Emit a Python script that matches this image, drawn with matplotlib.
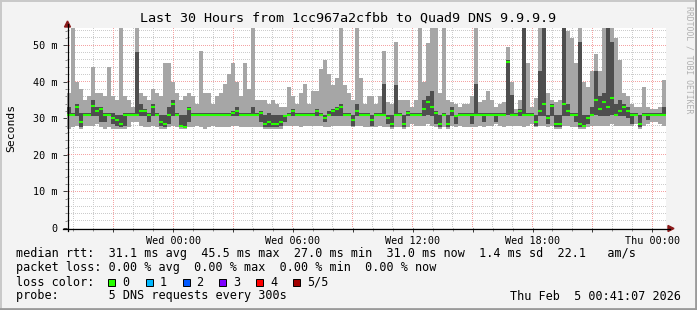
import matplotlib
matplotlib.use("Agg")
import matplotlib.pyplot as plt
import matplotlib.dates as mdates
import numpy as np
import pandas as pd
from matplotlib.patches import Rectangle, Polygon
from matplotlib.lines import Line2D

W, H, DPI = 697, 310, 100

# ---------------- data (5 sorted DNS probe rtts per 12-minute step, in ms) ----------------
start = pd.Timestamp("2026-02-03 18:41:07")
end = pd.Timestamp("2026-02-05 00:41:07")

ping_max = [37, 55, 40, 38, 35, 36, 44, 37, 37, 36,
            44, 36, 35, 55, 36, 35, 33, 55, 37, 36,
            35, 38, 37, 36, 45, 45, 40, 37, 35, 36,
            37, 36, 34, 48.5, 37, 37, 34, 36, 37, 39.5,
            42, 45, 40, 36, 45, 38, 55, 35, 35, 35,
            34, 35, 34, 33, 33, 38.5, 36, 34, 37, 39.5,
            34, 37.5, 37.5, 43.5, 46, 42, 39, 41, 55, 39,
            37, 35, 55, 41, 34, 36, 36, 34, 36, 48.5,
            34.5, 34, 51, 35, 35, 35, 33, 35, 55, 40,
            50.5, 55, 55, 37, 55, 35, 34.5, 34, 33, 34,
            34, 36, 55, 34.5, 35, 37.5, 35, 33, 34, 34.5,
            49.5, 40, 32.5, 35, 55, 45, 33, 35.5, 55, 55,
            37, 35, 34.5, 35, 55, 54, 52, 45, 55, 40,
            38.5, 43, 47.5, 43, 55, 55, 55, 52, 46, 37,
            36, 34, 33, 33, 38.5, 33, 32.5, 32.5, 33, 40.5]

ping_q4 = [33, 31.5, 34, 31.5, 31.5, 31.5, 35, 33, 33, 31.5,
           31.5, 31.5, 31, 31, 31.5, 31.5, 31.5, 48, 34, 32.5,
           31.5, 34, 31.5, 31, 31, 33, 35, 31.5, 31, 31,
           33, 31.5, 31.5, 31.5, 31.5, 31.5, 31.5, 31.5, 31.5, 31.5,
           31.5, 32, 33, 31.5, 31.5, 31.5, 33, 31.5, 32, 31,
           31.5, 31, 31, 31, 31, 31.5, 32.5, 31.5, 31.5, 31.5,
           31.5, 31.5, 32.5, 31.5, 31, 32, 32.5, 33, 34, 31.5,
           31.5, 31, 34, 31.5, 31.5, 31.5, 31, 31.5, 31.5, 39.5,
           31, 31, 39, 31.5, 31, 32, 31.5, 31.5, 31.5, 35,
           36, 37.5, 32, 31, 31.5, 31, 33, 31, 31.5, 31.5,
           31.5, 31.5, 39.5, 31.5, 31.5, 31.5, 31.5, 31.5, 31.5, 31.5,
           46, 36.5, 31.5, 32.5, 55, 31.5, 31.5, 31, 43, 55,
           31, 34, 31, 31, 55, 34, 31.5, 31.5, 51, 31,
           31, 33, 43, 36, 37, 55, 51, 34, 35, 34,
           33, 31.5, 31.5, 31, 31.5, 31.5, 31.5, 31.5, 31.5, 33]

median = [31, 31, 33, 29, 31, 31, 33.5, 32, 32.5, 31,
          31, 30, 29.5, 28.5, 31, 31, 31, 31, 32, 32,
          31, 33, 31, 29, 28.5, 31, 34, 31, 28, 27.5,
          32.5, 31, 31, 31, 31, 31, 31, 31, 31, 31,
          31, 31.5, 32, 31, 31, 31, 31, 31, 31.5, 28.5,
          29, 28.5, 28.5, 29, 30.5, 31, 32, 31, 31, 31,
          31, 31, 32, 31, 30, 31, 32, 32.5, 33, 31,
          31, 29.5, 32, 31, 31, 31, 29.5, 31, 31, 31,
          30, 28.5, 31, 31, 28.5, 31.5, 31, 31, 31, 32.5,
          34.5, 33, 31.5, 28.5, 31, 28.5, 32, 30.5, 31, 31,
          31, 31, 31, 31, 31, 31, 31, 31, 31, 31,
          45.5, 31, 31, 32, 31, 31, 31, 29, 32, 34,
          30, 33.5, 28.5, 28.5, 34, 32, 31, 31, 28.5, 28,
          30, 31, 35, 32.5, 34.5, 33, 35.5, 31, 32, 33,
          32, 31, 31, 28.5, 31, 31, 31, 31, 31, 31]

ping_q2 = [30.5, 30.5, 30.5, 27.5, 30.5, 30.5, 30.5, 30.5, 29, 29,
           30.5, 28.5, 28, 27.5, 28, 30.5, 30.5, 30.5, 30.5, 30.5,
           29, 30.5, 30.5, 28, 27.5, 28.5, 30.5, 30.5, 27.5, 27.5,
           29, 30.5, 30.5, 30.5, 30.5, 30.5, 30.5, 30.5, 30.5, 30.5,
           30.5, 30.5, 30.5, 30.5, 30.5, 30.5, 30.5, 30.5, 29, 27.5,
           27.5, 27.5, 27.5, 28, 29, 30.5, 30.5, 30.5, 30.5, 30.5,
           30.5, 30.5, 30.5, 30.5, 29, 30.5, 30.5, 30.5, 30.5, 30.5,
           30.5, 28, 30.5, 30.5, 30.5, 30.5, 28, 30.5, 30.5, 30.5,
           28.5, 27.5, 30.5, 30.5, 27.5, 30.5, 30.5, 30.5, 30.5, 30.5,
           31, 30.5, 28.5, 27.5, 30.5, 27.5, 30.5, 28.5, 30.5, 30.5,
           30.5, 28.5, 30.5, 30.5, 29, 30.5, 30.5, 29, 30.5, 30.5,
           31, 30.5, 30.5, 30.5, 30.5, 30.5, 30.5, 28, 30.5, 30.5,
           28.5, 30.5, 27.5, 27.5, 30.5, 30.5, 30.5, 29, 27.5, 27.5,
           28.5, 30.5, 31, 30.5, 30.5, 30.5, 31, 30.5, 30.5, 30.5,
           30, 28.5, 30.5, 27.5, 30.5, 29.5, 30.5, 30.5, 30.5, 30.5]

ping_min = [27, 27.5, 28, 27, 28, 28, 28, 28.5, 27.5, 27,
            27.5, 27, 27, 27, 27, 27.5, 29, 29, 28, 27.5,
            27.5, 28, 27.5, 27, 27, 27.5, 28, 27.5, 27, 27,
            27.5, 27.5, 28, 27.5, 27, 27.5, 28, 27.5, 27.5, 27.5,
            27.5, 28, 28, 27.5, 27.5, 27.5, 27.5, 27.5, 27.5, 27,
            27, 27, 27, 27, 28, 28, 28, 28, 27.5, 28,
            28, 28, 28, 28, 27.5, 27.5, 28, 28, 28, 28,
            28, 27.5, 28, 28, 27.5, 27.5, 27.5, 27.5, 28, 27.5,
            27.5, 27, 27.5, 27.5, 27, 27.5, 28.5, 28, 28, 28,
            28.5, 28, 27.5, 27, 27.5, 27, 28, 27.5, 28, 27.5,
            27.5, 27.5, 27.5, 28, 27.5, 28, 28, 28.5, 28, 27.5,
            28, 28, 28, 28, 27.5, 28, 28.5, 27.5, 28, 28,
            27.5, 28, 27, 27, 28, 28, 27.5, 27.5, 27, 27,
            27.5, 28, 28, 28, 28, 28, 28.5, 28, 28, 28,
            28, 28, 28.5, 27, 28, 28.5, 29, 29, 28.5, 28]

y_ticks = [0, 10, 20, 30, 40, 50]
y_labels = ["0", "10 m", "20 m", "30 m", "40 m", "50 m"]
y_minor = [2, 4, 6, 8, 12, 14, 16, 18, 22, 24, 26, 28, 32, 34, 36, 38, 42, 44, 46, 48, 52, 54]

title = "Last 30 Hours from 1cc967a2cfbb to Quad9 DNS 9.9.9.9"
row_rtt = "median rtt:  31.1 ms avg  45.5 ms max  27.0 ms min  31.0 ms now  1.4 ms sd  22.1   am/s"
row_loss = "packet loss: 0.00 % avg  0.00 % max  0.00 % min  0.00 % now"
loss_labels = ["0", "1", "2", "3", "4", "5/5"]
loss_colors = ["#26ff00", "#00b8ff", "#0059ff", "#7e00ff", "#ff0000", "#a10000"]
row_probe = "probe:       5 DNS requests every 300s"
stamp = "Thu Feb  5 00:41:07 2026"

# ---------------- figure ----------------
MONO = "DejaVu Sans Mono"
BG = "#f3f3f3"
fig = plt.figure(figsize=(W / DPI, H / DPI), dpi=DPI, facecolor=BG)

def fx(x):
    return x / W

def fy(y):
    return 1 - y / H

L, R, T, B = 67, 666, 28, 228
ax = fig.add_axes([fx(L), fy(B), (R - L) / W, (B - T) / H])
ax.set_facecolor("none")

edges = mdates.date2num(pd.date_range(start, periods=len(median) + 1, freq="12min").to_pydatetime())
ax.set_xlim(mdates.date2num(start.to_pydatetime()), mdates.date2num(end.to_pydatetime()))
ax.set_ylim(0, 54.7)

# smoke
ax.stairs(ping_max, edges, baseline=ping_min, fill=True, color="#a6a6a6", lw=0, zorder=2)
ax.stairs(ping_q4, edges, baseline=ping_q2, fill=True, color="#4e4e4e", lw=0, zorder=3)
# median coloured by loss (all 0 loss)
ax.hlines(median, edges[:-1], edges[1:], colors=loss_colors[0], lw=1.5, zorder=4)

# ticks
ax.xaxis.set_major_locator(mdates.HourLocator(byhour=range(0, 24, 3)))
ax.xaxis.set_minor_locator(mdates.HourLocator())

def xfmt(v, pos):
    d = mdates.num2date(v)
    return d.strftime("%a %H:%M") if d.hour % 6 == 0 else ""

ax.xaxis.set_major_formatter(plt.FuncFormatter(xfmt))
ax.set_yticks(y_ticks)
ax.set_yticklabels(y_labels)
ax.set_yticks(y_minor, minor=True)
ax.tick_params(which="major", length=3, width=0.72, color="#404040", direction="out",
               labelsize=7.3, labelfontfamily=MONO, pad=2.5)
ax.tick_params(axis="y", which="major", pad=3.5)
ax.tick_params(which="minor", length=1.8, width=0.72, color="#909090", direction="out")
for s in ax.spines.values():
    s.set_visible(False)

# crisp rrdtool-style dotted grid, painted pixel by pixel behind the axes
pw, ph = R - L, B - T
grid = np.ones((ph, pw, 4))
gray = (0.80, 0.80, 0.80, 1.0)
red = (0.96, 0.64, 0.64, 1.0)

def col_of(xv):
    return int(np.floor(ax.transData.transform((xv, 0))[0])) - L

def row_of(yv):
    return int(np.floor(H - ax.transData.transform((0, yv))[1])) - T

def paint(xs, ys, color):
    for xv in xs:
        c = col_of(xv)
        if 0 < c < pw:
            grid[0::2, c] = color
    for yv in ys:
        r = row_of(yv)
        if 0 <= r < ph - 1:
            grid[r, 0::2] = color

paint(ax.xaxis.get_minorticklocs(), y_minor, gray)
paint(ax.xaxis.get_majorticklocs(), y_ticks[1:], red)
fig.figimage(grid, xo=L, yo=H - B, origin="upper", zorder=-1)

# axes lines with arrows
fig.add_artist(Line2D([fx(L + 0.5), fx(L + 0.5)], [fy(B + 3), fy(24)], color="black", lw=0.9))
fig.add_artist(Line2D([fx(L - 4), fx(670)], [fy(B + 0.5), fy(B + 0.5)], color="black", lw=0.9))
fig.add_artist(Polygon([[fx(L - 2.5), fy(27)], [fx(L + 3.5), fy(27)], [fx(L + 0.5), fy(21)]],
                       closed=True, color="#8b1a1a", transform=fig.transFigure))
fig.add_artist(Polygon([[fx(668), fy(B - 2.5)], [fx(668), fy(B + 3.5)], [fx(674), fy(B + 0.5)]],
                       closed=True, color="#8b1a1a", transform=fig.transFigure))

# frame
fig.add_artist(Line2D([fx(0.5), fx(0.5)], [0, 1], color="#c8c8c8", lw=1.4))
fig.add_artist(Line2D([0, 1], [fy(0.5), fy(0.5)], color="#c8c8c8", lw=1.4))
fig.add_artist(Line2D([fx(W - 1.2), fx(W - 1.2)], [0, 1], color="#9a9a9a", lw=2.0))
fig.add_artist(Line2D([0, 1], [fy(H - 1.2), fy(H - 1.2)], color="#9a9a9a", lw=2.0))

# texts
fig.text(fx(348), fy(18), title, ha="center", va="center", family=MONO, fontsize=9.6)
fig.text(fx(11), fy(128), "Seconds", ha="center", va="center", rotation=90, family=MONO, fontsize=8.2)
fig.text(fx(689), fy(60), "RRDTOOL / TOBI OETIKER", ha="center", va="center", rotation=270,
         family=MONO, fontsize=5.9, color="#b0b0b0")

LS = 8.5
fig.text(fx(16), fy(254), row_rtt, ha="left", va="center", family=MONO, fontsize=LS)
fig.text(fx(16), fy(268), row_loss, ha="left", va="center", family=MONO, fontsize=LS)
fig.text(fx(16), fy(282), "loss color:", ha="left", va="center", family=MONO, fontsize=LS)
box_x = [108, 145.5, 182.5, 219, 256, 293]
for bx, lab, col in zip(box_x, loss_labels, loss_colors):
    fig.add_artist(Rectangle((fx(bx), fy(286)), 7 / W, 7 / H, facecolor=col, edgecolor="black",
                             lw=0.7, transform=fig.transFigure))
    fig.text(fx(bx + 14), fy(282), lab, ha="left", va="center", family=MONO, fontsize=LS)
fig.text(fx(16), fy(296), row_probe, ha="left", va="center", family=MONO, fontsize=LS)
fig.text(fx(681), fy(296), stamp, ha="right", va="center", family=MONO, fontsize=LS)

fig.savefig("out.png", dpi=DPI, facecolor=BG)
